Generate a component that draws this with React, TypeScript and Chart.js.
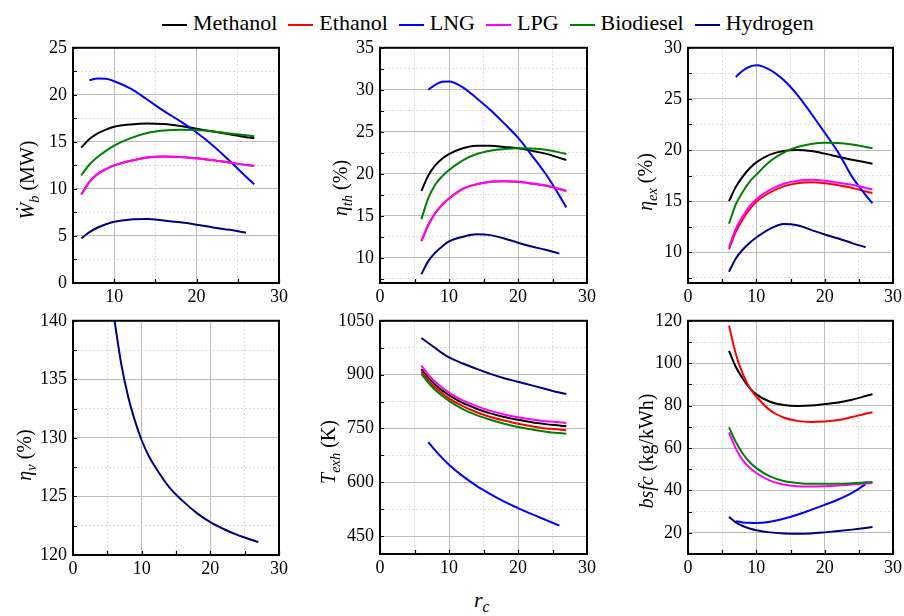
import React, { useEffect, useRef } from "react";
import { Chart, registerables } from "chart.js";

Chart.register(...registerables);

const SERIF = "'Liberation Serif', Tinos, 'DejaVu Serif', serif";

// ---------- shared ----------
const FUELS = ["Methanol", "Ethanol", "LNG", "LPG", "Biodiesel", "Hydrogen"];
const COLORS = ["#000000", "#ff0000", "#0000ff", "#ff00ff", "#008000", "#000080"];

// compression ratio r_c sample points
const rcAll = [6, 7, 8, 9, 10, 12, 14, 16, 18, 20, 22, 24, 26, 27];
const rcLng = [7, 8, 9, 10, 12, 14, 16, 18, 20, 22, 24, 26, 27];
const rcLng26 = [7, 8, 9, 10, 12, 14, 16, 18, 20, 22, 24, 26];
const rcH2 = [6, 7, 8, 9, 10, 12, 14, 16, 18, 20, 22, 24, 26];
const rcEtaV = [6, 7, 8, 9, 10, 11, 12, 14, 16, 18, 20, 22, 24, 26, 27];

// ---------- panel 1: brake power W_b (MW) ----------
const wbMethanol = [14.4, 15.3, 15.9, 16.3, 16.6, 16.85, 16.95, 16.9, 16.7, 16.4, 16.1, 15.8, 15.5, 15.4];
const wbEthanol = [9.4, 10.75, 11.6, 12.1, 12.5, 13.0, 13.35, 13.45, 13.4, 13.25, 13.05, 12.8, 12.55, 12.45];
const wbLNG = [21.55, 21.75, 21.7, 21.45, 20.65, 19.5, 18.3, 17.2, 16.0, 14.6, 13.0, 11.3, 10.5];
const wbLPG = [9.4, 10.75, 11.6, 12.1, 12.5, 13.0, 13.35, 13.45, 13.4, 13.25, 13.05, 12.8, 12.55, 12.45];
const wbBiodiesel = [11.45, 12.6, 13.4, 14.05, 14.6, 15.4, 15.95, 16.2, 16.3, 16.25, 16.1, 15.9, 15.7, 15.6];
const wbHydrogen = [4.75, 5.4, 5.9, 6.25, 6.5, 6.75, 6.8, 6.65, 6.45, 6.2, 5.9, 5.65, 5.35];

// ---------- panel 2: thermal efficiency (%) ----------
const thMethanol = [17.95, 19.8, 21.0, 21.8, 22.35, 23.05, 23.35, 23.35, 23.2, 23.05, 22.75, 22.4, 21.9, 21.65];
const thEthanol = [12.0, 13.9, 15.3, 16.3, 17.05, 18.2, 18.75, 19.05, 19.1, 19.05, 18.85, 18.6, 18.2, 17.95];
const thLNG = [30.0, 30.6, 30.95, 31.0, 30.3, 29.0, 27.6, 26.0, 24.3, 22.2, 20.0, 17.4, 16.0];
const thLPG = [12.0, 13.9, 15.3, 16.3, 17.05, 18.2, 18.75, 19.05, 19.1, 19.05, 18.85, 18.6, 18.2, 17.95];
const thBiodiesel = [14.6, 17.1, 18.7, 19.7, 20.45, 21.6, 22.35, 22.75, 22.95, 23.05, 23.0, 22.85, 22.55, 22.35];
const thHydrogen = [8.05, 9.6, 10.6, 11.35, 11.95, 12.5, 12.8, 12.7, 12.3, 11.8, 11.35, 10.95, 10.5];

// ---------- panel 3: exergy efficiency (%) ----------
const exMethanol = [15.0, 16.4, 17.4, 18.2, 18.8, 19.55, 19.9, 20.0, 19.9, 19.65, 19.35, 19.05, 18.8, 18.65];
const exEthanol = [10.3, 12.0, 13.2, 14.2, 14.95, 15.85, 16.45, 16.75, 16.85, 16.75, 16.55, 16.3, 15.95, 15.8];
const exLNG = [27.15, 27.75, 28.15, 28.3, 27.85, 26.85, 25.4, 23.6, 21.7, 19.75, 17.4, 15.6, 14.8];
const exLPG = [10.5, 12.3, 13.5, 14.5, 15.2, 16.1, 16.7, 17.0, 17.1, 17.0, 16.8, 16.6, 16.3, 16.15];
const exBiodiesel = [12.8, 14.7, 15.9, 16.9, 17.6, 18.9, 19.75, 20.3, 20.6, 20.72, 20.7, 20.55, 20.3, 20.18];
const exHydrogen = [8.1, 9.4, 10.25, 10.9, 11.45, 12.3, 12.78, 12.65, 12.2, 11.75, 11.35, 10.9, 10.5];

// ---------- panel 4: volumetric efficiency (%) ----------
const etaV = [140.2, 136.4, 133.6, 131.5, 129.8, 128.5, 127.5, 125.8, 124.6, 123.6, 122.8, 122.2, 121.7, 121.3, 121.1];

// ---------- panel 5: exhaust temperature (K) ----------
const txMethanol = [915, 892, 872, 856, 843, 821, 805, 792, 782, 774, 767, 762, 758, 756];
const txEthanol = [908, 884, 864, 848, 834, 812, 795, 782, 772, 763, 756, 750, 747, 745];
const txLNG = [712, 689, 668, 649, 617, 590, 567, 546, 528, 511, 495, 479];
const txLPG = [925, 900, 880, 864, 850, 828, 812, 799, 789, 781, 775, 770, 767, 765];
const txBiodiesel = [902, 878, 857, 841, 827, 804, 787, 774, 763, 754, 747, 741, 737, 735];
const txHydrogen = [1002, 988, 974, 960, 948, 931, 916, 902, 890, 880, 870, 860, 850, 846];

// ---------- panel 6: bsfc (kg/kWh) ----------
const bsMethanol = [105.8, 98.2, 92.8, 88.4, 85.3, 81.8, 80.3, 79.8, 80.0, 80.7, 81.5, 82.8, 84.5, 85.4];
const bsEthanol = [117.8, 104.3, 95.1, 88.5, 84.3, 77.8, 74.4, 72.8, 72.3, 72.5, 73.2, 74.6, 76.2, 76.9];
const bsLNG = [25.5, 24.9, 24.7, 24.6, 25.2, 26.6, 28.5, 30.8, 33.2, 35.7, 38.8, 43.0];
const bsLPG = [67.4, 59.7, 54.3, 50.8, 48.2, 44.6, 42.8, 42.0, 41.8, 42.0, 42.3, 42.8, 43.2, 43.5];
const bsBiodiesel = [69.7, 62.8, 57.4, 53.4, 50.5, 46.6, 44.4, 43.5, 43.1, 43.1, 43.1, 43.4, 43.8, 44.0];
const bsHydrogen = [27.5, 24.9, 23.2, 22.0, 21.2, 20.2, 19.7, 19.5, 19.7, 20.2, 20.8, 21.5, 22.3, 22.7];

// ---------- axis ticks ----------
const xTicksA = [5, 10, 15, 20, 25, 30];
const xTicksB = [0, 5, 10, 15, 20, 25, 30];
const xLabels = [0, 10, 20, 30];
const yTicks1 = [0, 2.5, 5, 7.5, 10, 12.5, 15, 17.5, 20, 22.5, 25];
const yLabels1 = [0, 5, 10, 15, 20, 25];
const yTicks2 = [7.5, 10, 12.5, 15, 17.5, 20, 22.5, 25, 27.5, 30, 32.5, 35];
const yLabels2 = [10, 15, 20, 25, 30, 35];
const yTicks3 = [7.5, 10, 12.5, 15, 17.5, 20, 22.5, 25, 27.5, 30];
const yLabels3 = [10, 15, 20, 25, 30];
const yTicks4 = [120, 122.5, 125, 127.5, 130, 132.5, 135, 137.5, 140];
const yLabels4 = [120, 125, 130, 135, 140];
const yTicks5 = [450, 525, 600, 675, 750, 825, 900, 975, 1050];
const yLabels5 = [450, 600, 750, 900, 1050];
const yTicks6 = [20, 30, 40, 50, 60, 70, 80, 90, 100, 110, 120];
const yLabels6 = [20, 40, 60, 80, 100, 120];

type Series = { f: number; x: number[]; y: number[] };
type PanelCfg = {
  rect: { l: number; t: number; r: number; b: number };
  xMin: number; xMax: number; xTicks: number[];
  yMin: number; yMax: number; yTicks: number[]; yLabels: number[];
  series: Series[];
};

const six = (
  a: number[], b: number[], c: number[], d: number[], e: number[], g: number[],
  xl: number[], xh: number[]
): Series[] => [
  { f: 0, x: rcAll, y: a },
  { f: 1, x: rcAll, y: b },
  { f: 2, x: xl, y: c },
  { f: 3, x: rcAll, y: d },
  { f: 4, x: rcAll, y: e },
  { f: 5, x: xh, y: g },
];

const PANELS: PanelCfg[] = [
  { rect: { l: 73, t: 43, r: 279, b: 283 }, xMin: 5, xMax: 30, xTicks: xTicksA, yMin: 0, yMax: 25, yTicks: yTicks1, yLabels: yLabels1,
    series: six(wbMethanol, wbEthanol, wbLNG, wbLPG, wbBiodiesel, wbHydrogen, rcLng, rcH2) },
  { rect: { l: 380, t: 43, r: 587, b: 283 }, xMin: 0, xMax: 30, xTicks: xTicksB, yMin: 7, yMax: 35, yTicks: yTicks2, yLabels: yLabels2,
    series: six(thMethanol, thEthanol, thLNG, thLPG, thBiodiesel, thHydrogen, rcLng, rcH2) },
  { rect: { l: 688, t: 43, r: 893, b: 283 }, xMin: 0, xMax: 30, xTicks: xTicksB, yMin: 7, yMax: 30, yTicks: yTicks3, yLabels: yLabels3,
    series: six(exMethanol, exEthanol, exLNG, exLPG, exBiodiesel, exHydrogen, rcLng, rcH2) },
  { rect: { l: 73, t: 316, r: 279, b: 555 }, xMin: 0, xMax: 30, xTicks: xTicksB, yMin: 120, yMax: 140, yTicks: yTicks4, yLabels: yLabels4,
    series: [{ f: 5, x: rcEtaV, y: etaV }] },
  { rect: { l: 380, t: 316, r: 587, b: 554 }, xMin: 0, xMax: 30, xTicks: xTicksB, yMin: 400, yMax: 1050, yTicks: yTicks5, yLabels: yLabels5,
    series: six(txMethanol, txEthanol, txLNG, txLPG, txBiodiesel, txHydrogen, rcLng26, rcAll) },
  { rect: { l: 688, t: 316, r: 893, b: 554 }, xMin: 0, xMax: 30, xTicks: xTicksB, yMin: 10, yMax: 120, yTicks: yTicks6, yLabels: yLabels6,
    series: six(bsMethanol, bsEthanol, bsLNG, bsLPG, bsBiodiesel, bsHydrogen, rcLng26, rcAll) },
];

const Y_W = 52;
const X_H = 30;
const PAD_T = 12;
const PAD_R = 16;

const framePlugin = {
  id: "frame",
  afterDraw(chart: any) {
    const { ctx, chartArea: a, scales } = chart;
    ctx.save();
    ctx.strokeStyle = "#000";
    ctx.lineWidth = 1.2;
    ctx.beginPath();
    for (const t of scales.x.ticks) {
      const px = Math.round(scales.x.getPixelForValue(t.value)) + 0.5;
      ctx.moveTo(px, a.bottom);
      ctx.lineTo(px, a.bottom - 4);
    }
    for (const t of scales.y.ticks) {
      const py = Math.round(scales.y.getPixelForValue(t.value)) + 0.5;
      ctx.moveTo(a.left, py);
      ctx.lineTo(a.left + 4, py);
    }
    ctx.stroke();
    ctx.lineWidth = 2;
    ctx.strokeRect(a.left, a.top, a.right - a.left, a.bottom - a.top);
    ctx.restore();
  },
};

function Panel({ cfg }: { cfg: PanelCfg }) {
  const ref = useRef<HTMLCanvasElement>(null);
  const { l, t, r, b } = cfg.rect;
  const w = Y_W + (r - l) + PAD_R;
  const h = PAD_T + (b - t) + X_H;

  useEffect(() => {
    if (!ref.current) return;
    const isXMajor = (v: number) => xLabels.includes(v);
    const isYMajor = (v: number) => cfg.yLabels.includes(v);
    const chart = new Chart(ref.current, {
      type: "line",
      data: {
        datasets: cfg.series.map((s) => ({
          label: FUELS[s.f],
          data: s.x.map((x, i) => ({ x, y: s.y[i] })),
          borderColor: COLORS[s.f],
          backgroundColor: COLORS[s.f],
          borderWidth: 2,
          pointRadius: 0,
          fill: false,
          cubicInterpolationMode: "monotone",
          order: 6 - s.f,
        })),
      },
      options: {
        responsive: false,
        animation: false,
        devicePixelRatio: 1,
        events: [],
        layout: { padding: { top: PAD_T, right: PAD_R, left: 0, bottom: 0 } },
        plugins: { legend: { display: false }, tooltip: { enabled: false } },
        scales: {
          x: {
            type: "linear",
            min: cfg.xMin,
            max: cfg.xMax,
            afterBuildTicks: (s: any) => {
              s.ticks = cfg.xTicks.map((v) => ({ value: v }));
            },
            afterFit: (s: any) => {
              s.height = X_H;
            },
            ticks: {
              autoSkip: false,
              maxRotation: 0,
              padding: 3,
              color: "#000",
              font: { family: SERIF, size: 18 },
              callback: (v: any) => (isXMajor(Number(v)) ? String(v) : ""),
            },
            grid: {
              drawTicks: false,
              lineWidth: 1,
              color: (c: any) => (isXMajor(c.tick?.value) ? "#bdbdbd" : "#dcdcdc"),
            },
            border: {
              display: false,
              dash: (c: any) => (isXMajor(c.tick?.value) ? [] : [2, 2]),
            },
          },
          y: {
            type: "linear",
            min: cfg.yMin,
            max: cfg.yMax,
            afterBuildTicks: (s: any) => {
              s.ticks = cfg.yTicks.map((v) => ({ value: v }));
            },
            afterFit: (s: any) => {
              s.width = Y_W;
            },
            ticks: {
              autoSkip: false,
              padding: 6,
              color: "#000",
              font: { family: SERIF, size: 18 },
              callback: (v: any) => (isYMajor(Number(v)) ? String(v) : ""),
            },
            grid: {
              drawTicks: false,
              lineWidth: 1,
              color: (c: any) => (isYMajor(c.tick?.value) ? "#bdbdbd" : "#dcdcdc"),
            },
            border: {
              display: false,
              dash: (c: any) => (isYMajor(c.tick?.value) ? [] : [2, 2]),
            },
          },
        },
      } as any,
      plugins: [framePlugin],
    });
    return () => chart.destroy();
  }, []);

  return (
    <canvas
      ref={ref}
      width={w}
      height={h}
      style={{ position: "absolute", left: l - Y_W, top: t - PAD_T, width: w, height: h }}
    />
  );
}

const subStyle: React.CSSProperties = { fontSize: "0.72em", verticalAlign: "-0.32em", lineHeight: 0 };

function YTitle({ cx, cy, children }: { cx: number; cy: number; children: React.ReactNode }) {
  return (
    <div
      style={{
        position: "absolute",
        left: cx,
        top: cy,
        transform: "translate(-50%, -50%) rotate(-90deg)",
        whiteSpace: "nowrap",
        fontFamily: SERIF,
        fontSize: 20,
        lineHeight: "24px",
        color: "#000",
      }}
    >
      {children}
    </div>
  );
}

export default function App() {
  return (
    <div
      style={{
        position: "absolute",
        left: 0,
        top: 0,
        width: 904,
        height: 616,
        overflow: "hidden",
        background: "#fff",
        fontFamily: SERIF,
      }}
    >
      {/* legend */}
      <div
        style={{
          position: "absolute",
          left: 162,
          top: 10,
          display: "flex",
          whiteSpace: "nowrap",
          fontSize: 22,
          lineHeight: "25px",
          color: "#000",
        }}
      >
        {FUELS.map((name, i) => (
          <span key={name} style={{ marginRight: 11 }}>
            <span
              style={{
                display: "inline-block",
                width: 25,
                height: 2,
                background: COLORS[i],
                verticalAlign: "middle",
                marginRight: 6,
              }}
            />
            {name}
          </span>
        ))}
      </div>

      {PANELS.map((p, i) => (
        <Panel key={i} cfg={p} />
      ))}

      <YTitle cx={27} cy={180}>
        <i>{"\u1E86"}</i>
        <i style={subStyle}>b</i> (MW)
      </YTitle>
      <YTitle cx={340} cy={188}>
        <i>η</i>
        <i style={subStyle}>th</i> (%)
      </YTitle>
      <YTitle cx={645} cy={182}>
        <i>η</i>
        <i style={subStyle}>ex</i> (%)
      </YTitle>
      <YTitle cx={24} cy={455}>
        <i>η</i>
        <i style={subStyle}>v</i> (%)
      </YTitle>
      <YTitle cx={328} cy={452}>
        <i>T</i>
        <i style={subStyle}>exh</i> (K)
      </YTitle>
      <YTitle cx={646} cy={451}>
        <i>bsfc</i> (kg/kWh)
      </YTitle>

      <div
        style={{
          position: "absolute",
          left: 474,
          top: 587,
          fontSize: 22,
          lineHeight: "25px",
          whiteSpace: "nowrap",
        }}
      >
        <i>r</i>
        <i style={subStyle}>c</i>
      </div>
    </div>
  );
}
